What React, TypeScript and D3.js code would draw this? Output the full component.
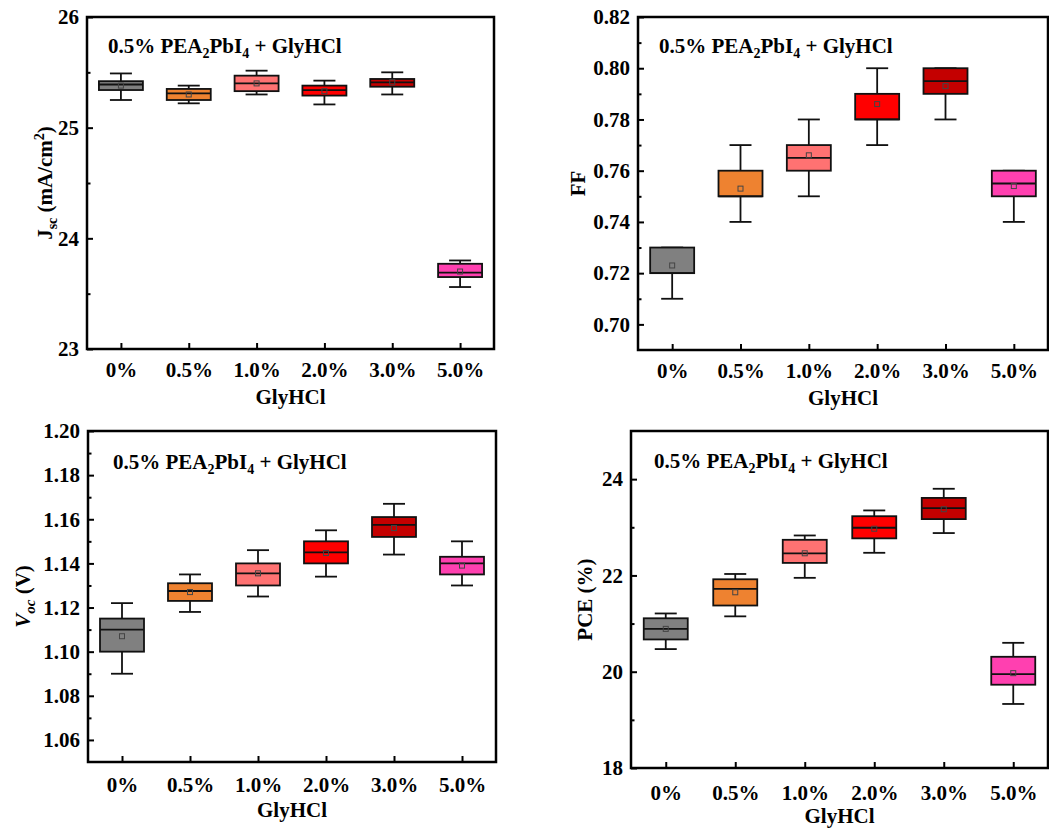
import React, { useEffect, useRef } from "react";
import * as d3 from "d3";

// categories (GlyHCl concentration)
const categories = ["0%", "0.5%", "1.0%", "2.0%", "3.0%", "5.0%"];
const boxColors = ["#808080", "#ee8230", "#ff7272", "#ff0000", "#c40000", "#ff40b0"];

// [min, q1, median, q3, max, mean] per category
const jscStats = [
  [25.25, 25.34, 25.39, 25.42, 25.49, 25.38],
  [25.22, 25.25, 25.31, 25.35, 25.38, 25.30],
  [25.30, 25.33, 25.40, 25.47, 25.515, 25.40],
  [25.21, 25.29, 25.34, 25.38, 25.425, 25.33],
  [25.30, 25.37, 25.41, 25.44, 25.50, 25.41],
  [23.56, 23.65, 23.69, 23.77, 23.80, 23.70],
];
const ffStats = [
  [0.71, 0.72, 0.72, 0.73, 0.73, 0.723],
  [0.74, 0.75, 0.75, 0.76, 0.77, 0.753],
  [0.75, 0.76, 0.765, 0.77, 0.78, 0.766],
  [0.77, 0.78, 0.78, 0.79, 0.80, 0.786],
  [0.78, 0.79, 0.795, 0.80, 0.80, 0.793],
  [0.74, 0.75, 0.755, 0.76, 0.76, 0.754],
];
const vocStats = [
  [1.090, 1.100, 1.110, 1.115, 1.122, 1.107],
  [1.118, 1.123, 1.1275, 1.131, 1.135, 1.127],
  [1.125, 1.130, 1.1355, 1.140, 1.146, 1.1355],
  [1.134, 1.140, 1.145, 1.150, 1.155, 1.1447],
  [1.144, 1.152, 1.1575, 1.161, 1.167, 1.156],
  [1.130, 1.135, 1.140, 1.143, 1.150, 1.139],
];
const pceStats = [
  [20.47, 20.67, 20.89, 21.11, 21.21, 20.89],
  [21.15, 21.375, 21.72, 21.92, 22.03, 21.65],
  [21.95, 22.26, 22.46, 22.74, 22.83, 22.46],
  [22.47, 22.77, 22.99, 23.23, 23.35, 22.97],
  [22.88, 23.17, 23.40, 23.61, 23.80, 23.375],
  [19.33, 19.73, 19.95, 20.31, 20.60, 19.97],
];

const jscTicks = [23, 24, 25, 26];
const jscMinor = [23.5, 24.5, 25.5];
const ffTicks = [0.70, 0.72, 0.74, 0.76, 0.78, 0.80, 0.82];
const ffMinor = [0.71, 0.73, 0.75, 0.77, 0.79, 0.81];
const vocTicks = [1.06, 1.08, 1.10, 1.12, 1.14, 1.16, 1.18, 1.20];
const vocMinor = [1.07, 1.09, 1.11, 1.13, 1.15, 1.17, 1.19];
const pceTicks = [18, 20, 22, 24];
const pceMinor = [19, 21, 23];

const FONT = "'Liberation Serif', 'Times New Roman', serif";

const panels = [
  { key: "jsc", stats: jscStats, domain: [23, 26], ticks: jscTicks, minor: jscMinor, fmt: "d",
    box: { left: 87, right: 494, top: 17, bottom: 349 }, xPad: 13, titleX: 52,
    note: { x: 108, y: 53 } },
  { key: "ff", stats: ffStats, domain: [0.69, 0.82], ticks: ffTicks, minor: ffMinor, fmt: ".2f",
    box: { left: 638, right: 1048, top: 17, bottom: 350 }, xPad: 13, titleX: 585,
    note: { x: 659, y: 53 } },
  { key: "voc", stats: vocStats, domain: [1.05, 1.20], ticks: vocTicks, minor: vocMinor, fmt: ".2f",
    box: { left: 88, right: 496, top: 431, bottom: 762 }, xPad: 15, titleX: 30,
    note: { x: 113, y: 469 } },
  { key: "pce", stats: pceStats, domain: [18, 25], ticks: pceTicks, minor: pceMinor, fmt: "d",
    box: { left: 631, right: 1048, top: 431, bottom: 768 }, xPad: 17, titleX: 592,
    note: { x: 654, y: 468 } },
];

const App = () => {
  const svgRef = useRef(null);

  useEffect(() => {
    const svg = d3.select(svgRef.current);
    svg.selectAll("*").remove();

    panels.forEach((p) => {
      const { left, right, top, bottom } = p.box;
      const g = svg.append("g").attr("font-family", FONT).attr("font-weight", "bold");

      const x = d3.scalePoint().domain(categories).range([left, right]).padding(0.5);
      const y = d3.scaleLinear().domain(p.domain).range([bottom, top]);

      // boxes
      const boxW = 44;
      const capW = 22;
      p.stats.forEach((s, i) => {
        const [mn, q1, med, q3, mx, mean] = s;
        const cx = x(categories[i]);
        const bg = g.append("g").attr("stroke", "#111").attr("stroke-width", 1.8);
        bg.append("line").attr("x1", cx).attr("x2", cx).attr("y1", y(mx)).attr("y2", y(q3));
        bg.append("line").attr("x1", cx).attr("x2", cx).attr("y1", y(q1)).attr("y2", y(mn));
        bg.append("line").attr("x1", cx - capW / 2).attr("x2", cx + capW / 2).attr("y1", y(mx)).attr("y2", y(mx));
        bg.append("line").attr("x1", cx - capW / 2).attr("x2", cx + capW / 2).attr("y1", y(mn)).attr("y2", y(mn));
        bg.append("rect")
          .attr("x", cx - boxW / 2)
          .attr("y", y(q3))
          .attr("width", boxW)
          .attr("height", y(q1) - y(q3))
          .attr("fill", boxColors[i]);
        bg.append("line").attr("x1", cx - boxW / 2).attr("x2", cx + boxW / 2).attr("y1", y(med)).attr("y2", y(med));
        g.append("rect")
          .attr("x", cx - 2.5).attr("y", y(mean) - 2.5)
          .attr("width", 5).attr("height", 5)
          .attr("fill", "none").attr("stroke", "#444").attr("stroke-width", 1);
      });

      // y axis (ticks inside)
      const yAxis = g.append("g")
        .attr("transform", `translate(${left},0)`)
        .call(d3.axisLeft(y).tickValues(p.ticks).tickSize(-6).tickPadding(8).tickFormat(d3.format(p.fmt)));
      yAxis.attr("font-size", 21).attr("font-family", FONT);
      yAxis.select(".domain").remove();
      yAxis.selectAll("line").attr("stroke-width", 2);
      yAxis.selectAll("text").attr("fill", "#000");

      const yMinor = g.append("g")
        .attr("transform", `translate(${left},0)`)
        .call(d3.axisLeft(y).tickValues(p.minor).tickSize(-3.5).tickFormat(() => ""));
      yMinor.select(".domain").remove();
      yMinor.selectAll("line").attr("stroke-width", 2);

      // x axis
      const xAxis = g.append("g")
        .attr("transform", `translate(0,${bottom})`)
        .call(d3.axisBottom(x).tickSize(-6).tickPadding(p.xPad));
      xAxis.attr("font-size", 21).attr("font-family", FONT);
      xAxis.select(".domain").remove();
      xAxis.selectAll("line").attr("stroke-width", 2);
      xAxis.selectAll("text").attr("fill", "#000");

      // frame
      g.append("rect")
        .attr("x", left).attr("y", top)
        .attr("width", right - left).attr("height", bottom - top)
        .attr("fill", "none").attr("stroke", "#000").attr("stroke-width", 2.5);

      // x title
      g.append("text")
        .attr("x", (left + right) / 2)
        .attr("y", bottom + 55)
        .attr("text-anchor", "middle")
        .attr("font-size", 21)
        .text("GlyHCl");

      // y title
      const yt = g.append("text")
        .attr("transform", `translate(${p.titleX},${(top + bottom) / 2}) rotate(-90)`)
        .attr("text-anchor", "middle")
        .attr("font-size", 21);
      if (p.key === "jsc") {
        yt.append("tspan").text("J");
        yt.append("tspan").attr("dy", 5).attr("font-size", 14).text("sc");
        yt.append("tspan").attr("dy", -5).text(" (mA/cm");
        yt.append("tspan").attr("dy", -8).attr("font-size", 14).text("2");
        yt.append("tspan").attr("dy", 8).text(")");
      } else if (p.key === "ff") {
        yt.text("FF");
      } else if (p.key === "voc") {
        yt.append("tspan").attr("font-style", "italic").text("V");
        yt.append("tspan").attr("font-style", "italic").attr("dy", 5).attr("font-size", 15).text("oc");
        yt.append("tspan").attr("dy", -5).text(" (V)");
      } else {
        yt.text("PCE (%)");
      }

      // annotation
      const note = g.append("text")
        .attr("x", p.note.x)
        .attr("y", p.note.y)
        .attr("font-size", 21);
      note.append("tspan").text("0.5% PEA");
      note.append("tspan").attr("dy", 5).attr("font-size", 14).text("2");
      note.append("tspan").attr("dy", -5).text("PbI");
      note.append("tspan").attr("dy", 5).attr("font-size", 14).text("4");
      note.append("tspan").attr("dy", -5).text(" + GlyHCl");
    });
  }, []);

  return (
    <svg
      ref={svgRef}
      width={1049}
      height={830}
      style={{ position: "absolute", left: 0, top: 0, background: "#fff" }}
    />
  );
};

export default App;
